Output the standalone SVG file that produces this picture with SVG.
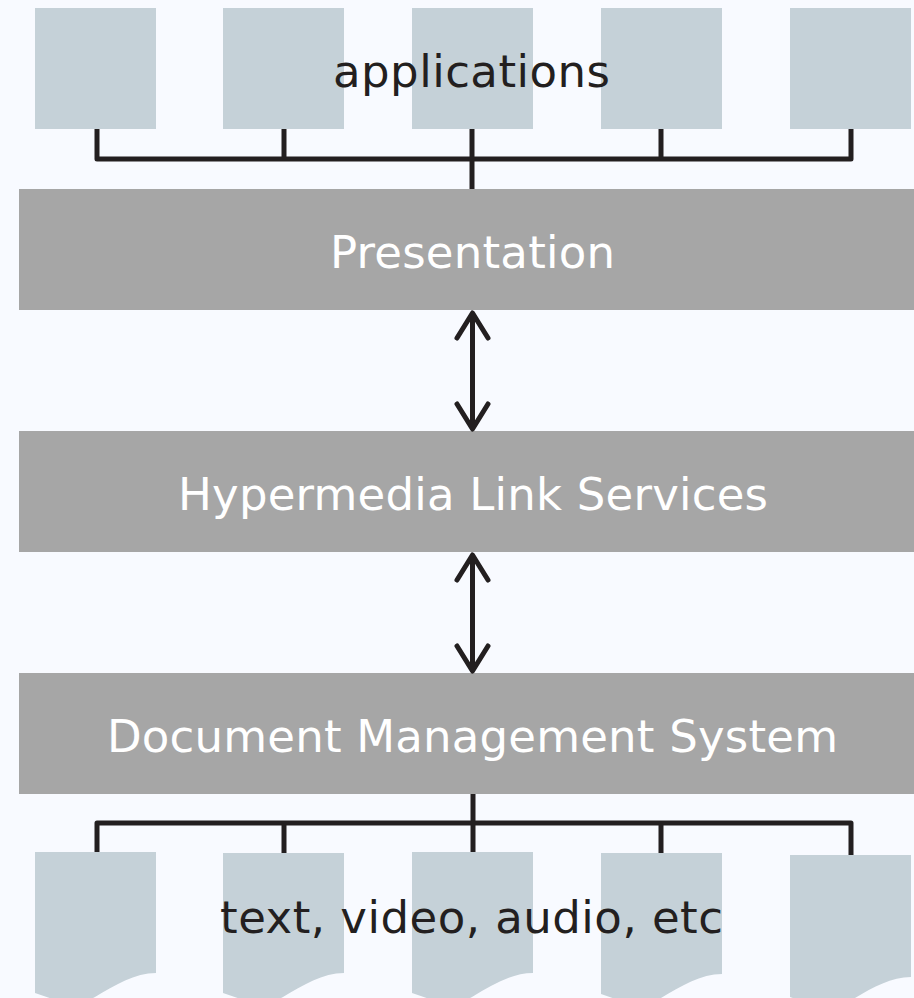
<svg xmlns="http://www.w3.org/2000/svg" width="914" height="998" viewBox="0 0 914 998">
<style>
.app{fill:#c5d1d8}
.doc{fill:#c5d1d8}
.bar{fill:#a6a6a6}
.wt{fill:#ffffff;font-family:"DejaVu Sans",Verdana,sans-serif;font-size:45px;text-anchor:middle}
.dk{fill:#231f20;font-family:"DejaVu Sans",Verdana,sans-serif;font-size:45px;text-anchor:middle}
.ln{fill:none;stroke:#231f20;stroke-width:5;stroke-linejoin:round}
.ar{fill:none;stroke:#231f20;stroke-width:5;stroke-linecap:round;stroke-linejoin:round}
</style>
<rect width="914" height="998" fill="#f8faff"/>
<g id="app1"><rect class="app" x="35" y="8" width="121" height="121"/></g>
<g id="app2"><rect class="app" x="223" y="8" width="121" height="121"/></g>
<g id="app3"><rect class="app" x="412" y="8" width="121" height="121"/></g>
<g id="app4"><rect class="app" x="601" y="8" width="121" height="121"/></g>
<g id="app5"><rect class="app" x="790" y="8" width="121" height="121"/></g>
<g id="applications-label"><text class="dk" x="471.5" y="87" textLength="277" lengthAdjust="spacing">applications</text></g>
<g id="presentation"><rect class="bar" x="19" y="189" width="895" height="121"/><text class="wt" x="472.5" y="268" textLength="285" lengthAdjust="spacing">Presentation</text></g>
<g id="hypermedia"><rect class="bar" x="19" y="431" width="895" height="121"/><text class="wt" x="473" y="510" textLength="590" lengthAdjust="spacing">Hypermedia Link Services</text></g>
<g id="dms"><rect class="bar" x="19" y="673" width="895" height="121"/><text class="wt" x="472.5" y="752" textLength="731" lengthAdjust="spacing">Document Management System</text></g>
<g id="doc1"><path class="doc" d="M35,852 H156 V973 C135,973 115,985 95,997 C75,1008 55,1000 35,993 Z"/></g>
<g id="doc2"><path class="doc" d="M223,853 H344 V973 C323,973 303,985 283,997 C263,1008 243,1000 223,993 Z"/></g>
<g id="doc3"><path class="doc" d="M412,852 H533 V973 C512,973 492,985 472,997 C452,1008 432,1000 412,993 Z"/></g>
<g id="doc4"><path class="doc" d="M601,853 H722 V974 C701,974 681,986 661,998 C641,1009 621,1001 601,994 Z"/></g>
<g id="doc5"><path class="doc" d="M790,855 H911 V977 C890,977 870,989 850,1001 C830,1012 810,1004 790,997 Z"/></g>
<g id="docs-label"><text class="dk" x="471.5" y="933" textLength="503" lengthAdjust="spacing">text, video, audio, etc</text></g>
<g id="connectors">
<path class="ln" d="M97,129 V159 H851 V129 M284,129 V159 M472,129 V189 M661,129 V159"/>
<path class="ln" d="M473,794 V823 M97,852 V823 H851 V855 M284,823 V853 M473,823 V852 M661,823 V853"/>
<path class="ar" d="M472.5,314 V428 M457,338 L472.5,313 L488,338 M457,404 L472.5,429 L488,404"/>
<path class="ar" d="M472.5,556 V670 M457,580 L472.5,555 L488,580 M457,646 L472.5,671 L488,646"/>
</g>
</svg>
